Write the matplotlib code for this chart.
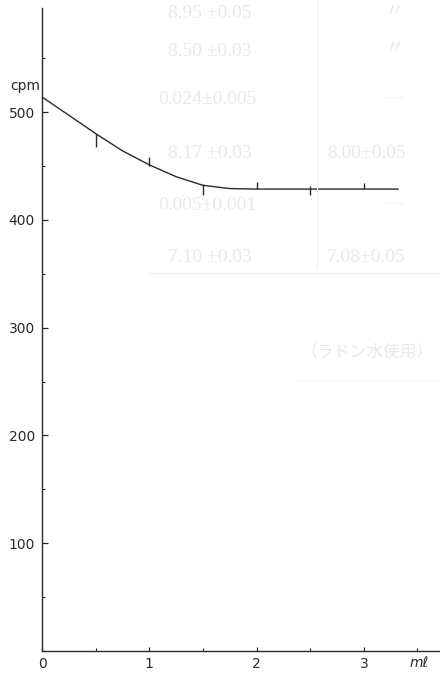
import matplotlib
matplotlib.use("Agg")
from matplotlib import pyplot as plt
from matplotlib.ticker import MultipleLocator

# curve (ml -> cpm)
curve_x = [0, 0.25, 0.5, 0.75, 1.0, 1.25, 1.5, 1.75, 2.0, 3.32]
curve_y = [514, 497, 480, 464, 451, 440, 432, 429, 428.5, 428.5]

# hand drawn error marks
err_x = [0.5, 1.0, 1.5, 2.0, 2.5, 3.0]
err_lo = [467.5, 449.5, 423, 428.5, 423, 428.5]
err_hi = [479.5, 458, 433, 435, 431, 434]

y_major = [100, 200, 300, 400, 500]
x_labels = ["0", "1", "2", "3"]

# faint text showing through from the back of the page (x px, y px, text)
bleed = [
    (168, 14, "8.95 ±0.05"), (385, 12, "〃"),
    (168, 51, "8.50 ±0.03"), (385, 49, "〃"),
    (158, 100, "0.024±0.005"), (382, 98, "—"),
    (168, 153, "8.17 ±0.03"), (327, 153, "8.00±0.05"),
    (158, 205, "0.005±0.001"), (382, 204, "—"),
    (168, 258, "7.10 ±0.03"), (327, 258, "7.08±0.05"),
]

W, H = 440, 673
fig = plt.figure(figsize=(W / 100, H / 100), dpi=100)
ax = fig.add_axes([42 / W, 22 / H, (W - 42) / W, (651 - 8) / H])
ax.set_xlim(0, 3.71)
ax.set_ylim(0, 596.5)

ink = "#2a2a2a"
faint = "#e9e9e9"

for px, py, s in bleed:
    fig.text(px / W, 1 - py / H, s, fontsize=14, color=faint,
             va="center", ha="left",
             family=["Liberation Serif", "Noto Sans CJK JP"])
fig.text(300 / W, 1 - 352 / H, "（ラドン水使用）", fontsize=12, color=faint,
         va="center", ha="left", family=["Noto Sans CJK JP", "DejaVu Sans"])
fig.add_artist(plt.Line2D([150 / W, 1], [1 - 273 / H] * 2, color="#eeeeee", lw=0.8))
fig.add_artist(plt.Line2D([317 / W] * 2, [1, 1 - 268 / H], color="#f1f1f1", lw=0.8))
fig.add_artist(plt.Line2D([295 / W, 1], [1 - 380 / H] * 2, color="#f0f0f0", lw=0.8))

ax.plot(curve_x, curve_y, color=ink, lw=1.0, solid_capstyle="round")
ax.vlines(err_x, err_lo, err_hi, color=ink, lw=1.0)

for side in ["top", "right"]:
    ax.spines[side].set_visible(False)
for side in ["left", "bottom"]:
    ax.spines[side].set_color(ink)
    ax.spines[side].set_linewidth(1.0)

ax.set_yticks(y_major)
ax.set_yticklabels([str(v) for v in y_major])
ax.yaxis.set_minor_locator(MultipleLocator(50))
ax.tick_params(axis="y", which="major", direction="in", length=4, width=0.9,
               color=ink, labelcolor=ink, labelsize=10, pad=5)
ax.tick_params(axis="y", which="minor", direction="in", length=2.5, width=0.8, color=ink)

ax.set_xticks([0, 1, 2, 3])
ax.set_xticklabels(x_labels)
ax.xaxis.set_minor_locator(MultipleLocator(0.5))
ax.tick_params(axis="x", which="major", direction="in", length=3, width=0.9,
               color=ink, labelcolor=ink, labelsize=10, pad=4)
ax.tick_params(axis="x", which="minor", direction="in", length=2.5, width=0.8, color=ink)

ax.text(-0.16, 524, "cpm", fontsize=10, color=ink, ha="center", va="center",
        clip_on=False)
ax.text(3.52, -11, "mℓ", fontsize=10, color=ink, ha="center", va="center",
        style="italic", clip_on=False)

fig.savefig("out.png", dpi=100, facecolor="white")
